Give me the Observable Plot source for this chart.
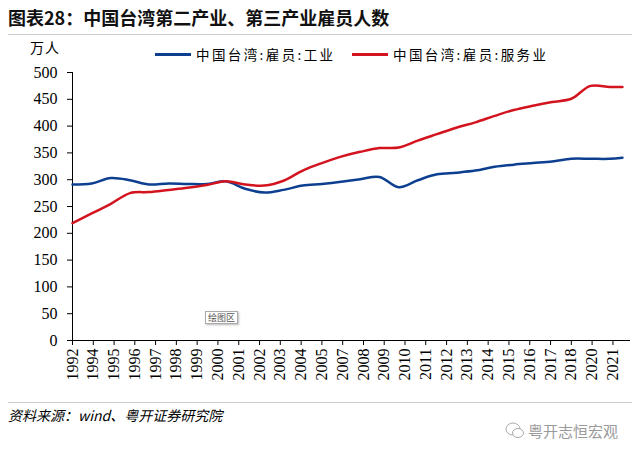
<!DOCTYPE html>
<html><head><meta charset="utf-8">
<script src="https://cdn.jsdelivr.net/npm/d3@7"></script>
<script src="https://cdn.jsdelivr.net/npm/@observablehq/plot@0.6"></script>
<style>
body{margin:0;background:#fff;}
#wrap{position:relative;width:640px;height:456px;overflow:hidden;font-family:"Noto Sans CJK SC","Noto Sans",sans-serif;color:#000;}
#title{position:absolute;left:8px;top:4px;font-size:18px;font-weight:bold;color:#111;white-space:nowrap;}
.hr{position:absolute;left:8px;width:624px;height:1px;background:#cfcfcf;}
#unit{position:absolute;left:30px;top:37px;font-size:14px;letter-spacing:1px;}
.leg{position:absolute;top:44px;font-size:13.5px;display:flex;align-items:center;white-space:nowrap;letter-spacing:2.4px;}
.leg .sw{display:inline-block;width:36px;height:3px;margin-right:5px;}
#chart{position:absolute;left:0;top:60px;}
#src{position:absolute;left:8px;top:405px;font-size:14px;font-style:italic;white-space:nowrap;}
#wm{position:absolute;left:505px;top:420px;font-size:15px;color:#9a9a9a;white-space:nowrap;display:flex;align-items:center;}
#wm svg{margin-right:3px;}
#tip{position:absolute;left:205px;top:311px;font-size:9px;line-height:11px;color:#555;border:1px solid #aaa;padding:0 2px;box-shadow:1px 1px 2px #bbb;background:#fff;}
</style>
</head><body>
<div id="wrap">
  <div id="title">图表28：中国台湾第二产业、第三产业雇员人数</div>
  <div class="hr" style="top:34px"></div>
  <div id="unit">万人</div>
  <div id="legend"></div>
  <div id="chart"></div>
  <div id="tip">绘图区</div>
  <div class="hr" style="top:402px"></div>
  <div id="src">资料来源：wind、粤开证券研究院</div>
  <div id="wm"><svg width="20" height="18" viewBox="0 0 20 18"><ellipse cx="8" cy="7" rx="7" ry="6" fill="none" stroke="#aaa" stroke-width="1"/><ellipse cx="13" cy="11" rx="5.5" ry="4.5" fill="#fff" stroke="#aaa" stroke-width="1"/></svg><span>粤开志恒宏观</span></div>
</div>
<script>
const seriesNames = ["中国台湾:雇员:工业", "中国台湾:雇员:服务业"];
const seriesColors = ["#0d3f91", "#d3141f"];
const periods = ["1992-12","1993-12","1994-12","1995-12","1996-12","1997-12","1998-12","1999-12","2000-12","2001-12",
  "2002-12","2003-12","2004-12","2005-12","2006-12","2007-12","2008-12","2009-12","2010-12","2011-12",
  "2012-12","2013-12","2014-12","2015-12","2016-12","2017-12","2018-12","2019-12","2020-12","2021-08"];
const industry = [291,293,303,299,291,293,292,292,297,283,276,281,289,292,296,301,305,286,299,310,313,317,324,328,331,334,339,339,339,341];
const services = [219,237,255,275,277,281,285,290,297,291,289,298,317,331,343,352,359,360,373,385,397,407,419,430,438,445,451,475,473,473];
const yTicks = [0,50,100,150,200,250,300,350,400,450,500];
const tickDates = ["1992-12","1994-01","1995-02","1996-03","1997-04","1998-05","1999-06","2000-07","2001-08","2002-09",
  "2003-10","2004-11","2005-12","2007-01","2008-02","2009-03","2010-04","2011-05","2012-06","2013-07",
  "2014-08","2015-09","2016-10","2017-11","2018-12","2020-01","2021-02"];
const tickLabels = ["1992","1994","1995","1996","1997","1998","1999","2000","2001","2002","2003","2004","2005","2007",
  "2008","2009","2010","2011","2012","2013","2014","2015","2016","2017","2018","2020","2021"];

const parse = d3.utcParse("%Y-%m");
const data = [];
periods.forEach((p, i) => {
  data.push({date: parse(p), value: industry[i], series: seriesNames[0]});
  data.push({date: parse(p), value: services[i], series: seriesNames[1]});
});
const tickDateObjs = tickDates.map(parse);
const labelMap = new Map(tickDateObjs.map((d, i) => [+d, tickLabels[i]]));
const x0 = parse("1992-12"), x1 = parse("2022-01");

const chart = Plot.plot({
  width: 640, height: 330,
  marginTop: 12, marginBottom: 50, marginLeft: 72, marginRight: 10,
  style: {fontFamily: "'Liberation Serif','Times New Roman',serif", fontSize: "16px", color: "#000", background: "transparent"},
  x: {type: "utc", domain: [x0, x1]},
  y: {domain: [0, 500]},
  color: {domain: seriesNames, range: seriesColors},
  marks: [
    Plot.axisY({ticks: yTicks, tickSize: 5, tickPadding: 10, label: null, fontSize: 16, stroke: "#000"}),
    Plot.axisX({ticks: tickDateObjs, tickFormat: d => labelMap.get(+d), tickRotate: -90, tickSize: 5, tickPadding: 3, label: null, fontSize: 16, stroke: "#000"}),
    Plot.ruleX([x0], {stroke: "#000", strokeWidth: 1}),
    Plot.ruleY([0], {stroke: "#000", strokeWidth: 1}),
    Plot.line(data, {x: "date", y: "value", stroke: "series", strokeWidth: 2.5, curve: "catmull-rom"})
  ]
});
document.getElementById("chart").appendChild(chart);

const legend = document.getElementById("legend");
const legPos = [155, 352];
seriesNames.forEach((n, i) => {
  const d = document.createElement("div");
  d.className = "leg";
  d.style.left = legPos[i] + "px";
  d.innerHTML = `<span class="sw" style="background:${seriesColors[i]}"></span><span>${n}</span>`;
  legend.appendChild(d);
});
</script>
</body></html>
